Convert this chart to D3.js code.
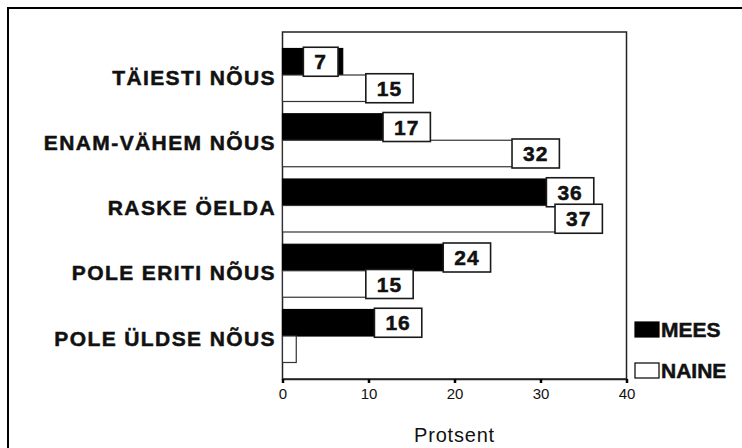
<!DOCTYPE html>
<html>
<head>
<meta charset="utf-8">
<script src="https://cdn.jsdelivr.net/npm/d3@7"></script>
<style>
  html, body { margin: 0; padding: 0; background: #fff; }
  svg { display: block; font-family: "Liberation Sans", Arial, sans-serif; }
</style>
</head>
<body>
<svg id="chart" width="742" height="448"></svg>
<script>
const categories = ["TÄIESTI NÕUS", "ENAM-VÄHEM NÕUS", "RASKE ÖELDA", "POLE ERITI NÕUS", "POLE ÜLDSE NÕUS"];
const seriesNames = ["MEES", "NAINE"];
const meesValues = [7, 17, 36, 24, 16];
const naineValues = [15, 32, 37, 15, 1.6];
const meesLabels = ["7", "17", "36", "24", "16"];
const naineLabels = ["15", "32", "37", "15", ""];
const xTicks = [0, 10, 20, 30, 40];
const xTitle = "Protsent";

(function () {
const svg = d3.select("#chart");

// outer frame
svg.append("rect").attr("x", 8).attr("y", 8).attr("width", 760).attr("height", 460)
  .attr("fill", "none").attr("stroke", "#000").attr("stroke-width", 2);

const pLeft = 282.5, pRight = 626.5, pTop = 32, pBottom = 379;
const x = d3.scaleLinear().domain([0, 40]).range([pLeft, pRight]);
const y = d3.scaleBand().domain(categories).range([pTop, pBottom]).paddingInner(0.188).paddingOuter(0.253);
const bh = y.bandwidth() / 2;

// plot frame
svg.append("rect").attr("x", pLeft).attr("y", pTop).attr("width", pRight - pLeft).attr("height", pBottom - pTop)
  .attr("fill", "none").attr("stroke", "#222").attr("stroke-width", 1.5);

const series = [
  { name: seriesNames[0], values: meesValues, labels: meesLabels, fill: "#000", stroke: "#000", off: 0 },
  { name: seriesNames[1], values: naineValues, labels: naineLabels, fill: "#fff", stroke: "#333", off: 1 }
];

series.forEach(s => {
  svg.append("g").selectAll("rect").data(categories).join("rect")
    .attr("x", x(0))
    .attr("y", (c) => y(c) + s.off * bh)
    .attr("width", (c, i) => x(s.values[i]) - x(0))
    .attr("height", bh)
    .attr("fill", s.fill).attr("stroke", s.stroke).attr("stroke-width", 1.2);
});

// value label boxes
series.forEach(s => {
  categories.forEach((c, i) => {
    const lab = s.labels[i];
    if (!lab) return;
    const cy = y(c) + s.off * bh + bh / 2;
    const cx = x(s.values[i]) - 22;
    const g = svg.append("g");
    const r = g.append("rect");
    const t = g.append("text").attr("x", cx).attr("y", cy).attr("dy", "0.36em")
      .attr("text-anchor", "middle").attr("font-size", 21).attr("font-weight", "bold")
      .attr("letter-spacing", 1).attr("fill", "#111")
      .attr("stroke", "#111").attr("stroke-width", 0.5).text(lab);
    const w = t.node().getComputedTextLength() + 22;
    r.attr("x", cx - w / 2).attr("y", cy - 14.5).attr("width", w).attr("height", 29)
      .attr("fill", "#fff").attr("stroke", "#1a1a1a").attr("stroke-width", 1.6);
  });
});

// category labels
svg.append("g").selectAll("text").data(categories).join("text")
  .attr("x", 276)
  .attr("y", c => y(c) + y.bandwidth() / 2 + 2)
  .attr("dy", "0.36em")
  .attr("text-anchor", "end")
  .attr("font-size", 21).attr("font-weight", "bold").attr("letter-spacing", 1.4)
  .attr("fill", "#111").attr("stroke", "#111").attr("stroke-width", 0.5)
  .text(c => c);

// x axis
const xAxis = d3.axisBottom(x).tickValues(xTicks).tickSize(4).tickPadding(5).tickFormat(d3.format("d"));
const ax = svg.append("g").attr("transform", `translate(0,${pBottom})`).call(xAxis);
ax.select(".domain").attr("stroke", "#222").attr("stroke-width", 1.5);
ax.selectAll(".tick line").attr("stroke", "#000").attr("stroke-width", 2.5);
ax.selectAll(".tick text").attr("font-size", 15).attr("fill", "#111")
  .attr("font-family", "Liberation Sans, Arial, sans-serif");

svg.append("text").attr("x", (pLeft + pRight) / 2).attr("y", 442)
  .attr("text-anchor", "middle").attr("font-size", 20).attr("letter-spacing", 0.8).attr("fill", "#111")
  .text(xTitle);

// legend
const lg = svg.append("g");
series.forEach((s, i) => {
  const ly = 322 + i * 41;
  lg.append("rect").attr("x", 635).attr("y", ly).attr("width", 24).attr("height", 15)
    .attr("fill", s.fill).attr("stroke", "#000").attr("stroke-width", 1.2);
  lg.append("text").attr("x", 661).attr("y", ly + 15).attr("font-size", 21)
    .attr("font-weight", "bold").attr("fill", "#111")
    .attr("stroke", "#111").attr("stroke-width", 0.5).text(s.name);
});
})();
</script>
</body>
</html>
